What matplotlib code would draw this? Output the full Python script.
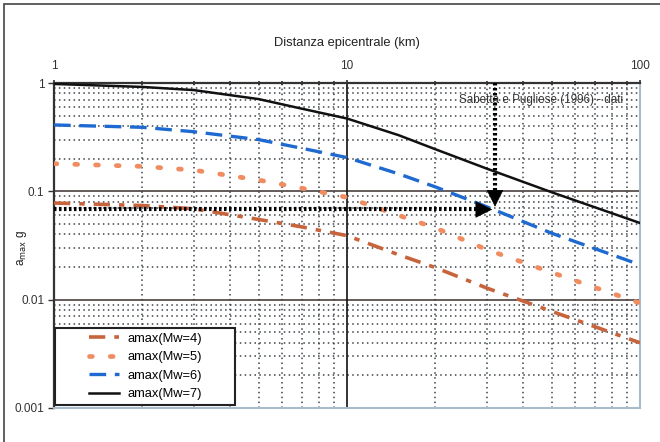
import numpy as np
import matplotlib
matplotlib.use("Agg")
import matplotlib.pyplot as plt
from matplotlib.lines import Line2D
from matplotlib.legend_handler import HandlerLine2D

# distances (km) and peak accelerations (g)
distance = [1, 2, 3, 5, 7, 10, 15, 20, 30, 50, 100]
amax_mw4 = [0.078, 0.074, 0.069, 0.055, 0.047, 0.039, 0.026, 0.0198, 0.0128, 0.0078, 0.004]
amax_mw5 = [0.18, 0.17, 0.157, 0.127, 0.107, 0.088, 0.06, 0.046, 0.029, 0.0178, 0.0093]
amax_mw6 = [0.41, 0.39, 0.355, 0.30, 0.25, 0.205, 0.145, 0.11, 0.072, 0.041, 0.021]
amax_mw7 = [0.98, 0.92, 0.86, 0.71, 0.58, 0.47, 0.33, 0.245, 0.162, 0.098, 0.051]
labels = ["amax(Mw=4)", "amax(Mw=5)", "amax(Mw=6)", "amax(Mw=7)"]

# reading shown by the arrows
arrow_distance = 32
arrow_acc = 0.068

plt.rcParams['font.family'] = ['Liberation Sans', 'DejaVu Sans']

# line styles of the four series
styles = [
    dict(color='#c8643c', lw=2.6, ls=(0, (4.5, 2.5, 1.5, 2.5))),
    dict(color='#f08c60', lw=3.4, ls=(0, (0.6, 3.8)), dash_capstyle='round'),
    dict(color='#1f6ad0', lw=2.4, ls=(0, (5, 2.6))),
    dict(color='#111111', lw=1.8),
]

fig = plt.figure(figsize=(6.6, 4.42), dpi=100)
ax = fig.add_axes([54 / 660, 1 - 408 / 442, 586 / 660, 325 / 442])
ax.set_xscale('log')
ax.set_yscale('log')
ax.set_xlim(1, 100)
ax.set_ylim(0.001, 1)

# grid
grid_col = '#3a4248'
for dec in [1, 10]:
    for m in range(2, 10):
        ax.axvline(dec * m, color=grid_col, ls=(0, (1, 2.2)), lw=1.1, zorder=1)
for dec in [0.001, 0.01, 0.1]:
    for m in range(2, 10):
        ax.axhline(dec * m, color=grid_col, ls=(0, (1, 2.2)), lw=1.1, zorder=1)
for v in [0.01, 0.1]:
    ax.axhline(v, color='#4a4040', lw=1.2, zorder=1)
ax.axvline(10, color='#111111', lw=1.2, zorder=1)

# curves
for vals, lab, st in zip([amax_mw4, amax_mw5, amax_mw6, amax_mw7], labels, styles):
    ax.plot(distance, vals, label=lab, zorder=3, **st)

# arrows
ax.plot([1, arrow_distance * 0.93], [arrow_acc, arrow_acc], color='black', lw=3,
        ls=(0, (0.6, 0.6)), zorder=4)
ax.annotate('', xy=(arrow_distance, arrow_acc), xytext=(arrow_distance * 0.9, arrow_acc),
            arrowprops=dict(arrowstyle='-|>', color='black', lw=0.5, mutation_scale=28), zorder=5)
ax.plot([arrow_distance, arrow_distance], [1, arrow_acc * 1.25], color='black', lw=3,
        ls=(0, (0.6, 0.6)), zorder=4)
ax.annotate('', xy=(arrow_distance, arrow_acc), xytext=(arrow_distance, arrow_acc * 1.4),
            arrowprops=dict(arrowstyle='-|>', color='black', lw=0.5, mutation_scale=28), zorder=5)

ax.text(0.971, 0.948, "Sabetta e Pugliese (1996) - dati", transform=ax.transAxes,
        ha='right', va='center', fontsize=8.4, color='#333333', zorder=6)

# axes styling
ax.xaxis.tick_top()
ax.xaxis.set_label_position('top')
ax.set_xticks([1, 10, 100])
ax.set_xticklabels(["1", "10", "100"])
ax.set_yticks([0.001, 0.01, 0.1, 1])
ax.set_yticklabels(["0.001", "0.01", "0.1", "1"])
ax.tick_params(axis='x', which='major', length=4, width=1.2, direction='inout', labelsize=8.5, pad=6,
               colors='#333333')
ax.tick_params(axis='x', which='minor', length=3, width=1.2, direction='inout', top=True, bottom=False,
               color='#333333')
ax.tick_params(axis='y', which='major', length=4, width=1.0, direction='out', labelsize=8.5,
               colors='#333333', pad=3)
ax.tick_params(axis='y', which='minor', length=0)
ax.set_xlabel("Distanza epicentrale (km)", fontsize=9.3, color='#222222', labelpad=10)
fig.text(22 / 660, 1 - 248 / 442, r"a$_{\rm max}$ g", rotation=90, fontsize=8.5,
         color='#222222', ha='center', va='center')

ax.spines['top'].set_color('#333333')
ax.spines['top'].set_linewidth(1.6)
ax.spines['left'].set_color('#333333')
ax.spines['left'].set_linewidth(1.6)
ax.spines['right'].set_color('#a8bccc')
ax.spines['right'].set_linewidth(1.5)
ax.spines['bottom'].set_color('#a8bccc')
ax.spines['bottom'].set_linewidth(1.5)

handles = [Line2D([], [], **st) for st in styles]
leg = ax.legend(handles, labels, loc='lower left', mode='expand',
                bbox_to_anchor=(1 / 586, 3 / 325, 180 / 586, 0.25), fontsize=9.3,
                frameon=True, fancybox=False, edgecolor='#222222', framealpha=1,
                borderpad=0.35, labelspacing=0.5, handlelength=4.6, handletextpad=0.7,
                borderaxespad=0, handler_map={Line2D: HandlerLine2D(xpad=2.3)})
leg.get_frame().set_linewidth(1.5)
leg.set_zorder(10)

# outer frame of the picture
fig.add_artist(plt.Rectangle((4 / 660, -0.1), 1.2, 1 - 4 / 442 + 0.1, transform=fig.transFigure,
                             fill=False, edgecolor='#444444', lw=1.2))

fig.savefig("out.png", dpi=100)
